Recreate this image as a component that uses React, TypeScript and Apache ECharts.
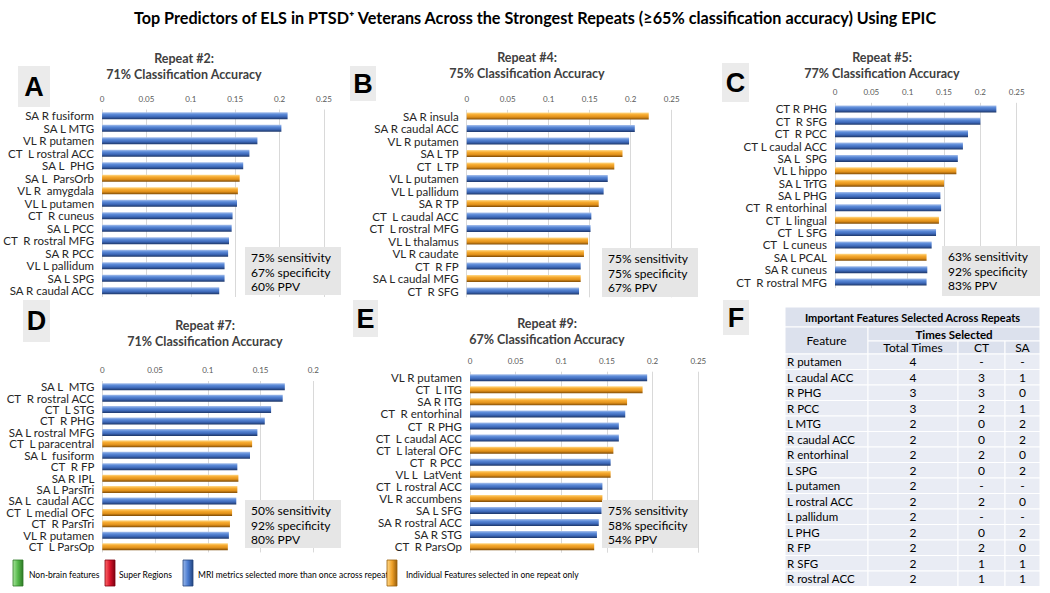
import React, { useEffect, useRef } from "react";
import * as echarts from "echarts";

const FONT = "Lato, 'Open Sans', sans-serif";
const LETTER_FONT = "'Liberation Sans', Arial, sans-serif";

const mainTitle =
  "Top Predictors of ELS in PTSD\u207A Veterans Across the Strongest Repeats (\u226565% classification accuracy) Using EPIC";

// Panel A – Repeat #2
const aLabels = ["SA R fusiform", "SA L MTG", "VL R putamen", "CT  L rostral ACC", "SA L  PHG", "SA L  ParsOrb", "VL R  amygdala", "VL L putamen", "CT  R cuneus", "SA L PCC", "CT  R rostral MFG", "SA R PCC", "VL L pallidum", "SA L SPG", "SA R caudal ACC"];
const aValues = [0.209, 0.202, 0.175, 0.166, 0.159, 0.155, 0.153, 0.152, 0.147, 0.146, 0.143, 0.142, 0.138, 0.138, 0.132];
const aOnce = [false, false, false, false, false, true, true, false, false, false, false, false, false, false, false];
const aStats = ["75% sensitivity", "67% specificity", "60% PPV"];

// Panel B – Repeat #4
const bLabels = ["SA R insula", "SA R caudal ACC", "VL R putamen", "SA L TP", "CT  L TP", "VL L putamen", "VL L pallidum", "SA R TP", "CT  L caudal ACC", "CT  L rostral MFG", "VL L thalamus", "VL R caudate", "CT  R FP", "SA L caudal MFG", "CT  R SFG"];
const bValues = [0.222, 0.205, 0.198, 0.19, 0.18, 0.172, 0.167, 0.161, 0.152, 0.151, 0.148, 0.143, 0.139, 0.139, 0.137];
const bOnce = [true, false, false, true, true, false, false, true, false, false, true, true, false, true, false];
const bStats = ["75% sensitivity", "75% specificity", "67% PPV"];

// Panel C – Repeat #5
const cLabels = ["CT R PHG", "CT  R SFG", "CT  R PCC", "CT L caudal ACC", "SA L  SPG", "VL L hippo", "SA L TrTG", "SA L PHG", "CT  R entorhinal", "CT  L lingual", "CT  L SFG", "CT  L cuneus", "SA L PCAL", "SA R cuneus", "CT  R rostral MFG"];
const cValues = [0.222, 0.2, 0.183, 0.176, 0.169, 0.167, 0.15, 0.145, 0.146, 0.143, 0.139, 0.133, 0.126, 0.127, 0.126];
const cOnce = [false, false, false, false, false, true, true, false, false, true, false, false, true, false, false];
const cStats = ["63% sensitivity", "92% specificity", "83% PPV"];

// Panel D – Repeat #7
const dLabels = ["SA L  MTG", "CT  R rostral ACC", "CT  L STG", "CT  R PHG", "SA L rostral MFG", "CT  L paracentral", "SA L  fusiform", "CT  R FP", "SA R IPL", "SA L ParsTri", "SA L  caudal ACC", "CT  L medial OFC", "CT  R ParsTri", "VL R putamen", "CT  L ParsOp"];
const dValues = [0.173, 0.171, 0.16, 0.154, 0.147, 0.142, 0.14, 0.128, 0.129, 0.128, 0.127, 0.123, 0.121, 0.12, 0.119];
const dOnce = [false, false, false, false, false, true, false, false, true, true, false, true, true, false, true];
const dStats = ["50% sensitivity", "92% specificity", "80% PPV"];

// Panel E – Repeat #9
const eLabels = ["VL R putamen", "CT  L ITG", "SA R ITG", "CT  R entorhinal", "CT  R PHG", "CT  L caudal ACC", "CT  L lateral OFC", "CT  R PCC", "VL L  LatVent", "CT  L rostral ACC", "VL R accumbens", "SA L SFG", "SA R rostral ACC", "SA R STG", "CT  R ParsOp"];
const eValues = [0.194, 0.189, 0.172, 0.17, 0.163, 0.163, 0.157, 0.154, 0.154, 0.145, 0.145, 0.144, 0.141, 0.139, 0.136];
const eOnce = [false, true, true, false, false, false, true, false, true, false, true, false, false, false, true];
const eStats = ["75% sensitivity", "58% specificity", "54% PPV"];

// Panel F – table
const tTitle = "Important Features Selected Across Repeats";
const tFeatures = ["R putamen", "L caudal ACC", "R PHG", "R PCC", "L MTG", "R caudal ACC", "R entorhinal", "L SPG", "L putamen", "L rostral ACC", "L pallidum", "L PHG", "R FP", "R SFG", "R rostral ACC"];
const tTotal = ["4", "4", "3", "3", "2", "2", "2", "2", "2", "2", "2", "2", "2", "2", "2"];
const tCT = ["-", "3", "3", "2", "0", "0", "2", "0", "-", "2", "-", "0", "2", "1", "1"];
const tSA = ["-", "1", "0", "1", "2", "2", "0", "2", "-", "0", "-", "2", "0", "1", "1"];

const legendNames = ["Non-brain features", "Super Regions", "MRI metrics selected more than once across repeats", "Individual Features selected in one repeat only"];

const panels = [
  { letter: "A", repeat: "Repeat #2:", acc: "71% Classification Accuracy", labels: aLabels, values: aValues, once: aOnce, stats: aStats, max: 0.25 },
  { letter: "B", repeat: "Repeat #4:", acc: "75% Classification Accuracy", labels: bLabels, values: bValues, once: bOnce, stats: bStats, max: 0.25 },
  { letter: "C", repeat: "Repeat #5:", acc: "77% Classification Accuracy", labels: cLabels, values: cValues, once: cOnce, stats: cStats, max: 0.25 },
  { letter: "D", repeat: "Repeat #7:", acc: "71% Classification Accuracy", labels: dLabels, values: dValues, once: dOnce, stats: dStats, max: 0.2 },
  { letter: "E", repeat: "Repeat #9:", acc: "67% Classification Accuracy", labels: eLabels, values: eValues, once: eOnce, stats: eStats, max: 0.25 },
];

// layout (pixels)
const layouts = [
  { left: 100, top: 109.5, width: 224, height: 187.5, titleX: 184, titleY: 58, box: [18, 66, 32, 41], stat: [245, 247, 96, 48] },
  { left: 466.7, top: 109.8, width: 205, height: 187.5, titleX: 527, titleY: 57, box: [350, 66, 26, 35], stat: [602, 248, 96, 49] },
  { left: 835, top: 102.8, width: 181.7, height: 185.4, titleX: 882, titleY: 57, box: [722, 63, 27, 39], stat: [942, 246, 98, 50] },
  { left: 102.3, top: 381, width: 211, height: 171.4, titleX: 205, titleY: 325, box: [23, 300, 27, 42], stat: [245, 500, 96, 48] },
  { left: 470, top: 371.7, width: 228.3, height: 181, titleX: 547, titleY: 323, box: [353, 300, 25, 37], stat: [602, 500, 96, 48] },
];
const fBox = [723, 300, 26, 35];

const blueGrad = new echarts.graphic.LinearGradient(0, 0, 0, 1, [
  { offset: 0, color: "#a9c1ec" },
  { offset: 0.3, color: "#5b8ad8" },
  { offset: 0.65, color: "#3d68b8" },
  { offset: 1, color: "#1c3566" },
]);
const orangeGrad = new echarts.graphic.LinearGradient(0, 0, 0, 1, [
  { offset: 0, color: "#ffdb8c" },
  { offset: 0.3, color: "#f7ab30" },
  { offset: 0.65, color: "#e0901a" },
  { offset: 1, color: "#7d4a06" },
]);

function legendGrad(light: string, mid: string, dark: string) {
  return new echarts.graphic.LinearGradient(0, 0, 1, 0, [
    { offset: 0, color: light },
    { offset: 0.5, color: mid },
    { offset: 1, color: dark },
  ]);
}

export default function App() {
  const ref = useRef<HTMLDivElement>(null);
  useEffect(() => {
    if (!ref.current) return;
    const chart = echarts.init(ref.current, undefined, { renderer: "svg" });

    const graphic: any[] = [];
    // main title
    graphic.push({
      type: "text", x: 535, y: 17,
      style: { text: mainTitle, font: `bold 16.2px ${FONT}`, fill: "#000", align: "center", verticalAlign: "middle" },
    });

    panels.forEach((p, i) => {
      const l = layouts[i];
      graphic.push({ type: "rect", shape: { x: l.box[0], y: l.box[1], width: l.box[2], height: l.box[3] }, style: { fill: "#ebebeb" } });
      graphic.push({ type: "text", x: l.box[0] + l.box[2] / 2, y: l.box[1] + l.box[3] / 2, style: { text: p.letter, font: `bold 27px ${LETTER_FONT}`, fill: "#000", align: "center", verticalAlign: "middle" } });
      graphic.push({ type: "text", x: l.titleX, y: l.titleY, style: { text: p.repeat, font: `bold 12.5px ${FONT}`, fill: "#404040", align: "center", verticalAlign: "middle" } });
      graphic.push({ type: "text", x: l.titleX, y: l.titleY + 16.5, style: { text: p.acc, font: `bold 12.5px ${FONT}`, fill: "#404040", align: "center", verticalAlign: "middle" } });
      graphic.push({ type: "rect", z: 10, shape: { x: l.stat[0], y: l.stat[1], width: l.stat[2], height: l.stat[3] }, style: { fill: "#e6e6e6" } });
      p.stats.forEach((s, k) => {
        graphic.push({ type: "text", z: 11, x: l.stat[0] + 6, y: l.stat[1] + 10.5 + k * 14.5, style: { text: s, font: `12px ${FONT}`, fill: "#000", verticalAlign: "middle" } });
      });
    });

    // F letter
    graphic.push({ type: "rect", shape: { x: fBox[0], y: fBox[1], width: fBox[2], height: fBox[3] }, style: { fill: "#ebebeb" } });
    graphic.push({ type: "text", x: fBox[0] + fBox[2] / 2, y: fBox[1] + fBox[3] / 2, style: { text: "F", font: `bold 27px ${LETTER_FONT}`, fill: "#000", align: "center", verticalAlign: "middle" } });

    // Table F
    const tx = [785, 868, 958, 1005, 1040];
    const hdrFill = "#dce1ed";
    const rowFill = "#e9ecf4";
    const cell = (x0: number, y0: number, x1: number, y1: number, fill: string) =>
      graphic.push({ type: "rect", shape: { x: x0, y: y0, width: x1 - x0, height: y1 - y0 }, style: { fill, stroke: "#fff", lineWidth: 1 } });
    const txt = (x: number, y: number, t: string, bold: boolean, align = "center", size = 12) =>
      graphic.push({ type: "text", x, y, style: { text: t, font: `${bold ? "bold " : ""}${size}px ${FONT}`, fill: "#000", align, verticalAlign: "middle" } });
    cell(tx[0], 307, tx[4], 327, hdrFill);
    txt((tx[0] + tx[4]) / 2, 317, tTitle, true, "center", 11);
    cell(tx[0], 327, tx[1], 354, hdrFill);
    txt((tx[0] + tx[1]) / 2, 340, "Feature", false);
    cell(tx[1], 327, tx[4], 341, hdrFill);
    txt((tx[1] + tx[4]) / 2, 334, "Times Selected", true, "center", 11.5);
    const subHdr = ["Total Times", "CT", "SA"];
    for (let c = 1; c < 4; c++) {
      cell(tx[c], 341, tx[c + 1], 354, hdrFill);
      txt((tx[c] + tx[c + 1]) / 2, 347.5, subHdr[c - 1], false);
    }
    const rh = 15.5;
    tFeatures.forEach((f, r) => {
      const y0 = 354 + r * rh;
      const cols = [f, tTotal[r], tCT[r], tSA[r]];
      for (let c = 0; c < 4; c++) {
        cell(tx[c], y0, tx[c + 1], y0 + rh, rowFill);
        if (c === 0) txt(tx[0] + 2, y0 + rh / 2, cols[c], false, "left", 11.5);
        else txt((tx[c] + tx[c + 1]) / 2, y0 + rh / 2, cols[c], false);
      }
    });

    // legend
    const legColors = [
      ["#a6e39a", "#55b84a", "#2f7a27"],
      ["#ff6a6a", "#d8142a", "#7d0010"],
      ["#9ab8ea", "#4a7bd0", "#23457f"],
      ["#ffd98a", "#f0a22a", "#9a5f0a"],
    ];
    const legIconX = [13, 105, 183, 387];
    const legTextX = [29, 119, 198, 406];
    legendNames.forEach((n, k) => {
      const c = legColors[k];
      graphic.push({ type: "rect", shape: { x: legIconX[k], y: 560, width: 10, height: 26 }, style: { fill: legendGrad(c[0], c[1], c[2]), stroke: c[2], lineWidth: 0.8 } });
      graphic.push({ type: "text", x: legTextX[k], y: 575, style: { text: n, font: `8.5px ${FONT}`, fill: "#000", verticalAlign: "middle" } });
    });

    const option: any = {
      animation: false,
      backgroundColor: "#fff",
      grid: layouts.map((l) => ({ left: l.left, top: l.top, width: l.width, height: l.height })),
      xAxis: panels.map((p, i) => ({
        gridIndex: i, type: "value", position: "top", min: 0, max: p.max, interval: 0.05,
        axisLabel: { fontSize: 8, color: "#595959", margin: 7, fontFamily: FONT },
        axisLine: { show: false }, axisTick: { show: false },
        splitLine: { show: true, lineStyle: { color: "#d9d9d9", width: 1 } },
      })),
      yAxis: panels.map((p, i) => ({
        gridIndex: i, type: "category", inverse: true, data: p.labels,
        axisLine: { show: false }, axisTick: { show: false },
        axisLabel: { interval: 0, fontSize: 11.5, lineHeight: 11, color: "#262626", margin: 8, fontFamily: FONT },
      })),
      series: panels.map((p, i) => ({
        type: "bar", xAxisIndex: i, yAxisIndex: i, barWidth: 7,
        data: p.values.map((v, j) => ({ value: v, itemStyle: { color: p.once[j] ? orangeGrad : blueGrad } })),
      })),
      graphic,
    };
    chart.setOption(option);
    return () => chart.dispose();
  }, []);
  return <div ref={ref} style={{ position: "fixed", left: 0, top: 0, width: 1050, height: 593 }} />;
}
